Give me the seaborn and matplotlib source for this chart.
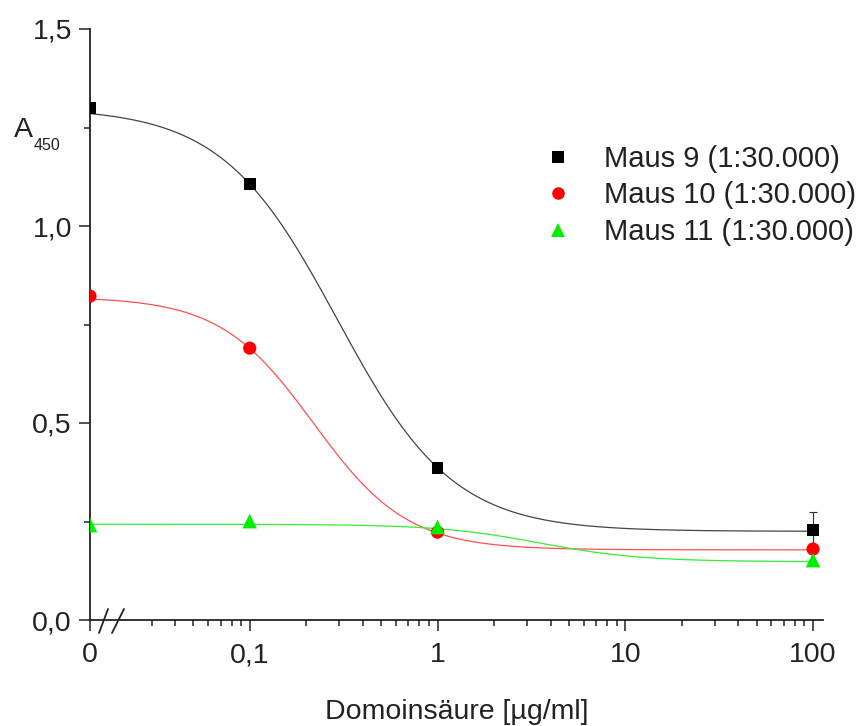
import numpy as np
import pandas as pd
import matplotlib
matplotlib.use("Agg")
import matplotlib.pyplot as plt
from matplotlib.lines import Line2D
from matplotlib.ticker import FixedLocator, FixedFormatter, NullFormatter
import seaborn as sns

sns.set_style("ticks")
plt.rcParams['font.family'] = ['Liberation Sans', 'DejaVu Sans']

# ---- data ----
conc = [0, 0.1, 1, 100]
maus9 = [1.30, 1.107, 0.386, 0.228]
maus10 = [0.822, 0.690, 0.223, 0.180]
maus11 = [0.241, 0.251, 0.236, 0.152]
maus9_err = [0, 0, 0, 0.046]
series = ["Maus 9 (1:30.000)", "Maus 10 (1:30.000)", "Maus 11 (1:30.000)"]
# 4-parameter logistic fit parameters
fit_top = [1.30, 0.82, 0.243]
fit_bottom = [0.225, 0.178, 0.148]
fit_ec50 = [0.293, 0.219, 3.5]
fit_hill = [1.41, 1.74, 1.6]
xtick_values = [0, 0.1, 1, 10, 100]
xtick_labels = ["0", "0,1", "1", "10", "100"]
ytick_values = [0.0, 0.5, 1.0, 1.5]
ytick_labels = ["0,0", "0,5", "1,0", "1,5"]

colors = ["#000000", "#ff0000", "#00ee00"]
line_colors = ["#444444", "#ff5050", "#33ee33"]
markers = ["s", "o", "^"]
msizes = [8.5, 9.5, 10.5]

X0 = 0.0141   # position where "0" is drawn on the broken log axis
XMAX = 113

def xpos(v):
    return X0 if v == 0 else v

W, H = 858, 726
fig = plt.figure(figsize=(W / 100, H / 100), dpi=100)
ax = fig.add_axes([90 / W, (H - 620) / H, (823 - 90) / W, (620 - 29) / H])

values = [maus9, maus10, maus11]
rows = []
for name, vals in zip(series, values):
    for c, v in zip(conc, vals):
        rows.append({"x": xpos(c), "y": v, "series": name})
df = pd.DataFrame(rows)

# fitted curves
xs = np.geomspace(X0, 100, 400)
crow = []
for i, name in enumerate(series):
    xe = np.where(xs <= X0 * 1.0001, 0.0, xs)
    ys = fit_bottom[i] + (fit_top[i] - fit_bottom[i]) / (1 + (xe / fit_ec50[i]) ** fit_hill[i])
    for a, b in zip(xs, ys):
        crow.append({"x": a, "y": b, "series": name})
cdf = pd.DataFrame(crow)
sns.lineplot(data=cdf, x="x", y="y", hue="series", palette=dict(zip(series, line_colors)),
             linewidth=0.9, legend=False, ax=ax, zorder=2)

# error bar
ax.errorbar([xpos(c) for c in conc], maus9, yerr=maus9_err, fmt="none", ecolor="#333333",
            elinewidth=0.8, capsize=3, capthick=0.8, zorder=3)

for i, name in enumerate(series):
    sub = df[df.series == name]
    sns.scatterplot(data=sub, x="x", y="y", color=colors[i], marker=markers[i],
                    s=msizes[i] ** 2, edgecolor="none", ax=ax, zorder=4, legend=False)

ax.set_xscale("log")
ax.set_xlim(X0, XMAX)
ax.set_ylim(0, 1.5)

ax.xaxis.set_major_locator(FixedLocator([xpos(v) for v in xtick_values]))
ax.xaxis.set_major_formatter(FixedFormatter(xtick_labels))
minors = [m * 0.01 for m in range(3, 10)] + [m * d for d in (0.1, 1, 10) for m in range(2, 10)]
ax.xaxis.set_minor_locator(FixedLocator(minors))
ax.xaxis.set_minor_formatter(NullFormatter())
ax.yaxis.set_major_locator(FixedLocator(ytick_values))
ax.yaxis.set_major_formatter(FixedFormatter(ytick_labels))
ax.yaxis.set_minor_locator(FixedLocator([0.25, 0.75, 1.25]))

ax.tick_params(which="major", length=8, width=1.1, labelsize=20.5, color="#222222",
               labelcolor="#222222", direction="out")
ax.tick_params(axis="x", which="major", pad=8)
ax.tick_params(axis="y", which="major", pad=5)
ax.tick_params(which="minor", length=4.5, width=1.1, color="#222222", direction="out")
for s in ["top", "right"]:
    ax.spines[s].set_visible(False)
for s in ["left", "bottom"]:
    ax.spines[s].set_linewidth(1.3)
    ax.spines[s].set_color("#222222")
ax.set_xlabel("Domoinsäure [µg/ml]", fontsize=20.5, color="#222222", labelpad=22)
ax.set_ylabel("")

# axis break marks
for (x1, y1, x2, y2) in [(99, 633, 108, 609), (112, 633, 124, 609)]:
    fig.add_artist(Line2D([x1 / W, x2 / W], [1 - y1 / H, 1 - y2 / H],
                          transform=fig.transFigure, color="#222222", lw=1.3))

# y label A450
fig.text(14 / W, 1 - 137 / H, "A", fontsize=20.5, color="#222222", va="baseline", ha="left")
fig.text(34 / W, 1 - 150 / H, "450", fontsize=11.5, color="#222222", va="baseline", ha="left")

# legend
handles = [Line2D([], [], linestyle="none", marker=markers[i], color=colors[i],
                  markersize=msizes[i] * 0.95, markeredgewidth=0) for i in range(3)]
fig.legend(handles, series, loc="upper left", bbox_to_anchor=(543 / W, 1 - 145 / H),
           frameon=False, fontsize=21, borderpad=0, borderaxespad=0,
           handlelength=1.0, handletextpad=1.1, labelspacing=0.29,
           labelcolor="#222222")

fig.savefig("out.png", dpi=100, facecolor="white")
